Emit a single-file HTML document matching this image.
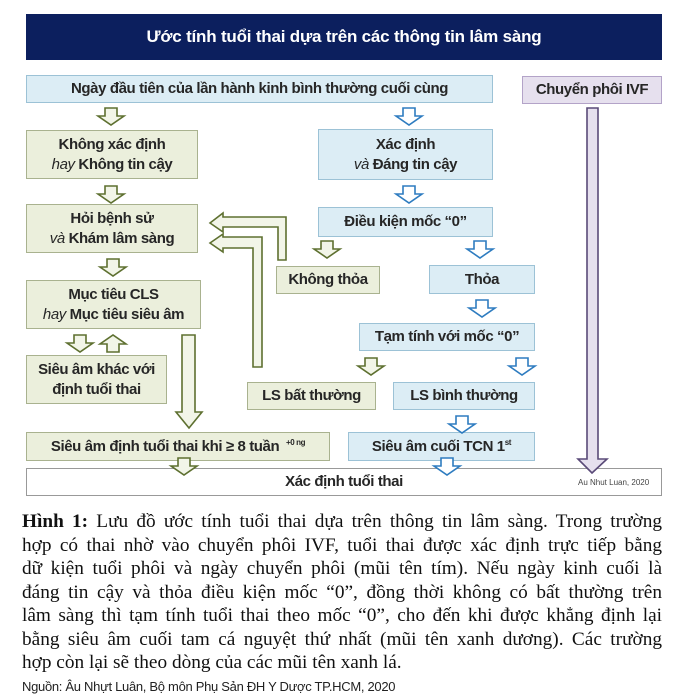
<!DOCTYPE html>
<html><head><meta charset="utf-8"><style>
body{margin:0;width:689px;height:699px;background:#fff;position:relative;overflow:hidden;font-family:"Liberation Sans","DejaVu Sans",sans-serif}
.b{position:absolute;box-sizing:border-box;display:flex;align-items:center;justify-content:center;text-align:center;font-weight:bold;font-size:15px;letter-spacing:-0.4px;color:#262626;line-height:20px}
.b > div{display:block}
.g{background:#ebefdc;border:1.5px solid #a9b28f}
.u{background:#dcedf5;border:1.5px solid #9cc2d6}
.p{background:#e6e0ee;border:1.5px solid #b3a3c8}
i{font-weight:normal}
.cap{position:absolute;left:22px;width:640px;top:510px;font-family:"Liberation Serif",serif;font-size:19.3px;line-height:23.5px;color:#111}
.cap div{text-align:justify;text-align-last:justify;white-space:nowrap}
.cap div.l{text-align-last:left}
svg{position:absolute;left:0;top:0}
</style></head><body>
<div class="b" style="left:26px;top:14px;width:636px;height:46px;background:#0c1f5e;color:#fff;font-size:17px;letter-spacing:-0.2px">Ước tính tuổi thai dựa trên các thông tin lâm sàng</div>

<div class="b u" style="left:26px;top:75px;width:467px;height:28px">Ngày đầu tiên của lần hành kinh bình thường cuối cùng</div>
<div class="b p" style="left:522px;top:76px;width:140px;height:28px">Chuyển phôi IVF</div>

<div class="b g" style="left:26px;top:130px;width:172px;height:49px"><div>Không xác định<br><i>hay</i> Không tin cậy</div></div>
<div class="b u" style="left:318px;top:129px;width:175px;height:51px"><div>Xác định<br><i>và</i> Đáng tin cậy</div></div>

<div class="b g" style="left:26px;top:204px;width:172px;height:49px"><div>Hỏi bệnh sử<br><i>và</i> Khám lâm sàng</div></div>
<div class="b u" style="left:318px;top:207px;width:175px;height:30px">Điều kiện mốc “0”</div>

<div class="b g" style="left:276px;top:266px;width:104px;height:28px">Không thỏa</div>
<div class="b u" style="left:429px;top:265px;width:106px;height:29px">Thỏa</div>

<div class="b g" style="left:26px;top:280px;width:175px;height:49px"><div>Mục tiêu CLS<br><i>hay</i> Mục tiêu siêu âm</div></div>
<div class="b u" style="left:359px;top:323px;width:176px;height:28px">Tạm tính với mốc “0”</div>

<div class="b g" style="left:26px;top:355px;width:141px;height:49px"><div>Siêu âm khác với<br>định tuổi thai</div></div>
<div class="b g" style="left:247px;top:382px;width:129px;height:28px">LS bất thường</div>
<div class="b u" style="left:393px;top:382px;width:142px;height:28px">LS bình thường</div>

<div class="b g" style="left:26px;top:432px;width:304px;height:29px"><div>Siêu âm định tuổi thai khi ≥ 8 tuần <sup style="font-size:8px;line-height:0;margin-left:3px">+0 ng</sup></div></div>
<div class="b u" style="left:348px;top:432px;width:187px;height:29px"><div>Siêu âm cuối TCN 1<sup style="font-size:8px;line-height:0">st</sup></div></div>

<div class="b" style="left:26px;top:468px;width:636px;height:28px;background:#fff;border:1.5px solid #999">Xác định tuổi thai</div>
<div style="position:absolute;left:578px;top:478px;font-size:8px;color:#444">Au Nhut Luan, 2020</div>

<svg width="689" height="699">
<defs>
<polygon id="d" points="-6,0 6,0 6,8 13,8 0,17 -13,8 -6,8"/>
<polygon id="up" points="-6,17 6,17 6,9 13,9 0,0 -13,9 -6,9"/>
</defs>
<g fill="#f2f5e8" stroke="#5e7030" stroke-width="1.6">
<use href="#d" x="111" y="108"/>
<use href="#d" x="111" y="186"/>
<use href="#d" x="327" y="241"/>
<use href="#d" x="113" y="259"/>
<use href="#d" x="80" y="335"/>
<use href="#up" x="113" y="335"/>
<use href="#d" x="371" y="358"/>
<use href="#d" x="184" y="458"/>
<polygon points="210,223 223,213 223,217 286,217 286,260 278,260 278,227 223,227 223,232"/>
<polygon points="210,243 223,234 223,237 262,237 262,367 253,367 253,248 223,248 223,252"/>
<polygon points="182,335 195,335 195,412 202,412 189,428 176,412 182,412"/>
</g>
<g fill="#fff" stroke="#2e7cc0" stroke-width="1.6">
<use href="#d" x="409" y="108"/>
<use href="#d" x="409" y="186"/>
<use href="#d" x="480" y="241"/>
<use href="#d" x="482" y="300"/>
<use href="#d" x="522" y="358"/>
<use href="#d" x="462" y="416"/>
<use href="#d" x="447" y="458"/>
</g>
<polygon fill="#e6e0ee" stroke="#5a4a78" stroke-width="1.6" points="587,108 598,108 598,459 607,459 592,473 578,459 587,459"/>
</svg>

<div class="cap">
<div><b>Hình 1:</b> Lưu đồ ước tính tuổi thai dựa trên thông tin lâm sàng. Trong trường</div>
<div>hợp có thai nhờ vào chuyển phôi IVF, tuổi thai được xác định trực tiếp bằng</div>
<div>dữ kiện tuổi phôi và ngày chuyển phôi (mũi tên tím). Nếu ngày kinh cuối là</div>
<div>đáng tin cậy và thỏa điều kiện mốc “0”, đồng thời không có bất thường trên</div>
<div>lâm sàng thì tạm tính tuổi thai theo mốc “0”, cho đến khi được khẳng định lại</div>
<div>bằng siêu âm cuối tam cá nguyệt thứ nhất (mũi tên xanh dương). Các trường</div>
<div class="l">hợp còn lại sẽ theo dòng của các mũi tên xanh lá.</div>
</div>
<div style="position:absolute;left:22px;top:679px;font-size:13px;letter-spacing:-0.3px;color:#222">Nguồn: Âu Nhựt Luân, Bộ môn Phụ Sản ĐH Y Dược TP.HCM, 2020</div>
</body></html>
